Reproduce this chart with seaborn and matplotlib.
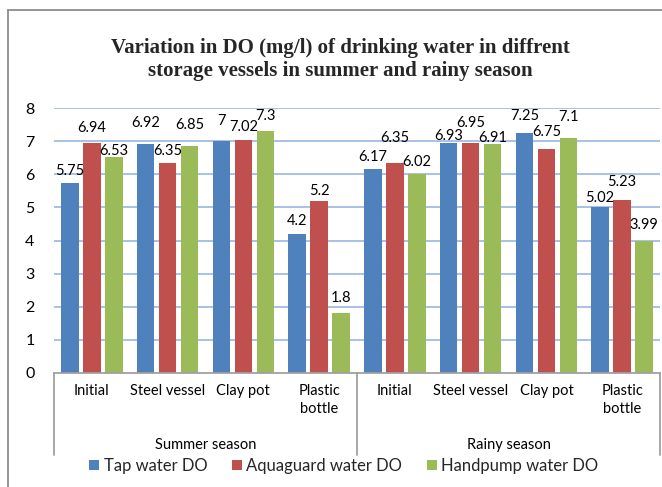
import numpy as np
import pandas as pd
import matplotlib
matplotlib.use("Agg")
import matplotlib.pyplot as plt
from matplotlib.lines import Line2D
from matplotlib.patches import Patch
import matplotlib.transforms as mtrans
import seaborn as sns

# ---- data ----
seasons = ["Summer season", "Rainy season"]
vessels = ["Initial", "Steel vessel", "Clay pot", "Plastic\nbottle"]
series_names = ["Tap water DO", "Aquaguard water DO", "Handpump water DO"]
tap = [5.75, 6.92, 7, 4.2, 6.17, 6.93, 7.25, 5.02]
aqua = [6.94, 6.35, 7.02, 5.2, 6.35, 6.95, 6.75, 5.23]
hand = [6.53, 6.85, 7.3, 1.8, 6.02, 6.91, 7.1, 3.99]
y_ticks = [0, 1, 2, 3, 4, 5, 6, 7, 8]
title = "Variation in DO (mg/l) of drinking water in diffrent\nstorage vessels in summer and rainy season"

# label offsets above bar tops (pixels) - style only
label_dy = [
    [12, 21, 20, 13, 12, 7, 17, 9],
    [15, 12, 13, 10, 25, 20, 17, 18],
    [6, 21, 15, 15, 12, 6, 21, 16],
]

colors = ["#4F81BD", "#C0504D", "#9BBB59"]

keys = [f"{s}|{v}" for s in seasons for v in vessels]
rows = []
for name, vals in zip(series_names, [tap, aqua, hand]):
    for k, v in zip(keys, vals):
        rows.append({"cat": k, "series": name, "value": v})
df = pd.DataFrame(rows)

sns.set_style("white")
plt.rcParams["font.family"] = ["Lato", "DejaVu Sans"]

W, H = 662, 487
fig = plt.figure(figsize=(W / 100, H / 100), dpi=100)
ax = fig.add_axes([54 / W, (H - 373) / H, 606 / W, 265 / H])

sns.barplot(data=df, x="cat", y="value", hue="series", order=keys,
            hue_order=series_names, palette=colors, saturation=1,
            width=0.873, gap=0.2, ax=ax, legend=False, errorbar=None,
            edgecolor="none", linewidth=0)

ax.set_xlim(-0.5, len(keys) - 0.5)
ax.set_ylim(0, 8)
ax.set_yticks(y_ticks)
ax.set_yticklabels([str(t) for t in y_ticks], fontsize=11.5, color="#000000")
ax.tick_params(axis="y", length=0, pad=14)
ax.set_xlabel("")
ax.set_ylabel("")

for y in y_ticks[1:]:
    ax.axhline(y, color="#A9C1E8", linewidth=1.4, zorder=0)
ax.set_axisbelow(True)

for sp in ["top", "right", "left"]:
    ax.spines[sp].set_visible(False)
ax.spines["bottom"].set_color("#A0A0A0")
ax.spines["bottom"].set_linewidth(1.3)

# category labels
ax.set_xticks(range(len(keys)))
ax.set_xticklabels(vessels * len(seasons), fontsize=10.5, color="#000000")
ax.tick_params(axis="x", length=0, pad=8)
for lbl in ax.get_xticklabels():
    lbl.set_linespacing(1.35)
    lbl.set_verticalalignment("top")

trans = mtrans.blended_transform_factory(ax.transData, ax.transAxes)
sep_bottom = -(455 - 373) / 265
for xs in [-0.5, 3.5, 7.5]:
    ax.plot([xs, xs], [0, sep_bottom], color="#A0A0A0", linewidth=1.3,
            transform=trans, clip_on=False)
for i, s in enumerate(seasons):
    cx = i * len(vessels) + (len(vessels) - 1) / 2
    ax.text(cx, -(445 - 373) / 265, s, transform=trans, ha="center",
            va="center", fontsize=10.5, color="#000000")

# data labels
for si, cont in enumerate(ax.containers):
    for ci, bar in enumerate(cont):
        h = bar.get_height()
        xc = bar.get_x() + bar.get_width() / 2
        ax.annotate(f"{h:g}", (xc, h), xytext=(0, label_dy[si][ci]),
                    textcoords="offset pixels", ha="center", va="center",
                    fontsize=10.5, color="#000000")

# title
fig.text(340 / W, 1 - 59.5 / H, title, ha="center", va="center",
         fontsize=15, fontweight="bold", family="Liberation Serif",
         linespacing=1.2)

# legend
handles = [Patch(facecolor=c, edgecolor="none") for c in colors]
fig.legend(handles, series_names, loc="center", bbox_to_anchor=(344 / W, 1 - 466 / H),
           ncol=3, frameon=False, fontsize=12, handlelength=0.6,
           handleheight=0.6, handletextpad=0.25, columnspacing=1.5)

# chart frame (partly cropped)
fc = "#8C8C8C"
fig.add_artist(Line2D([7.5 / W, 7.5 / W], [0, 1 - 10 / H], color=fc,
                      linewidth=1.3, transform=fig.transFigure))
fig.add_artist(Line2D([7.5 / W, 1], [1 - 10 / H, 1 - 10 / H], color=fc,
                      linewidth=1.3, transform=fig.transFigure))

fig.savefig("out.png", dpi=100)
